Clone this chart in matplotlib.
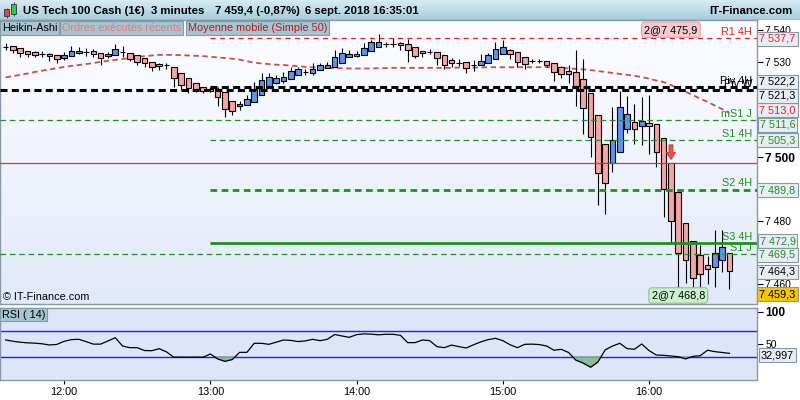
import numpy as np
import pandas as pd
import matplotlib
matplotlib.use('Agg')
import matplotlib.pyplot as plt
from matplotlib.colors import LinearSegmentedColormap
from matplotlib.patches import Rectangle

plt.rcParams['font.family'] = ['Liberation Sans', 'DejaVu Sans']

# ---------------- data ----------------
times = pd.date_range('2018-09-06 11:36', '2018-09-06 16:33', freq='3min')

ha_open = [7534.9, 7535.1, 7534.4, 7533.6, 7533.1, 7532.6, 7532.6, 7532.2, 7531.4, 7532.0,
           7532.8, 7533.2, 7533.4, 7532.8, 7532.0, 7532.2, 7533.3, 7533.0, 7532.1, 7531.2,
           7530.2, 7529.3, 7529.1, 7528.6, 7526.7, 7524.9, 7523.3, 7522.3, 7521.6, 7521.4,
           7520.6, 7517.9, 7516.2, 7516.4, 7517.4, 7519.7, 7521.8, 7523.5, 7524.2, 7524.6,
           7525.9, 7526.9, 7526.7, 7527.5, 7528.1, 7528.6, 7529.8, 7531.5, 7531.9, 7532.2,
           7533.4, 7534.7, 7535.6, 7535.7, 7536.0, 7535.6, 7534.7, 7533.4, 7533.3, 7533.1,
           7532.2, 7530.6, 7529.8, 7530.0, 7529.1, 7529.0, 7529.7, 7530.9, 7532.5, 7533.8,
           7533.1, 7531.5, 7530.5, 7530.5, 7530.3, 7529.7, 7528.6, 7527.2, 7526.8, 7524.7,
           7520.2, 7513.3, 7504.1, 7498.3, 7501.6, 7508.8, 7511.1, 7509.9, 7510.7, 7510.4,
           7506.0, 7498.1, 7489.1, 7479.2, 7473.6, 7469.2, 7466.0, 7465.3, 7467.6, 7469.7]
ha_close = [7534.9, 7533.9, 7532.8, 7532.5, 7532.4, 7532.6, 7532.0, 7530.9, 7532.2, 7533.6,
            7533.6, 7533.2, 7532.5, 7531.3, 7532.6, 7534.1, 7533.3, 7531.0, 7530.0, 7529.7,
            7528.4, 7528.8, 7529.1, 7524.9, 7522.8, 7521.8, 7521.6, 7521.0, 7521.0, 7519.1,
            7515.1, 7514.7, 7516.8, 7518.3, 7521.4, 7524.4, 7525.2, 7524.9, 7525.2, 7527.1,
            7527.8, 7526.9, 7527.8, 7529.0, 7529.1, 7531.5, 7533.0, 7532.6, 7532.6, 7534.4,
            7536.3, 7536.3, 7535.6, 7535.7, 7535.3, 7533.9, 7532.0, 7532.8, 7533.3, 7531.2,
            7529.0, 7529.7, 7529.8, 7528.2, 7529.1, 7530.5, 7532.3, 7534.1, 7534.7, 7532.5,
            7530.2, 7529.3, 7530.5, 7530.5, 7529.0, 7526.8, 7526.2, 7526.2, 7522.6, 7515.6,
            7506.3, 7495.0, 7491.8, 7505.5, 7515.8, 7513.6, 7508.8, 7511.5, 7509.7, 7501.6,
            7489.9, 7479.8, 7469.7, 7467.6, 7461.9, 7463.2, 7464.7, 7469.7, 7471.6, 7464.0]
ha_high = [7536.2, 7535.1, 7534.4, 7533.6, 7533.6, 7533.6, 7533.0, 7532.2, 7533.2, 7535.1,
           7534.7, 7534.4, 7534.1, 7532.8, 7533.3, 7535.7, 7535.1, 7533.0, 7532.4, 7531.2,
           7530.2, 7529.7, 7529.7, 7528.6, 7526.7, 7524.9, 7523.3, 7522.3, 7522.3, 7522.1,
           7520.6, 7517.9, 7517.7, 7519.6, 7523.8, 7526.7, 7526.7, 7526.0, 7527.0, 7528.4,
           7528.6, 7527.9, 7529.7, 7529.7, 7530.1, 7533.9, 7534.4, 7533.9, 7533.6, 7536.0,
           7537.0, 7538.8, 7536.5, 7537.5, 7536.5, 7537.2, 7534.7, 7533.4, 7534.1, 7533.1,
           7532.2, 7531.3, 7530.9, 7530.0, 7530.7, 7532.6, 7533.0, 7536.4, 7537.0, 7534.1,
           7533.1, 7531.5, 7531.1, 7531.1, 7530.3, 7529.7, 7528.8, 7529.1, 7533.9, 7530.9,
           7520.2, 7513.3, 7504.1, 7516.0, 7520.9, 7519.3, 7516.8, 7518.9, 7519.7, 7510.4,
           7506.0, 7498.1, 7489.1, 7479.2, 7473.6, 7472.3, 7468.9, 7477.1, 7477.1, 7469.8]
ha_low = [7533.9, 7532.8, 7531.5, 7531.7, 7531.7, 7531.5, 7530.5, 7529.7, 7530.7, 7532.0,
          7532.6, 7532.0, 7531.5, 7529.0, 7531.3, 7532.2, 7531.7, 7530.5, 7529.2, 7528.4,
          7527.3, 7527.5, 7527.8, 7522.1, 7521.4, 7520.4, 7520.6, 7520.4, 7520.6, 7516.2,
          7512.6, 7513.3, 7514.9, 7516.4, 7517.4, 7519.7, 7521.8, 7523.1, 7523.5, 7524.6,
          7525.9, 7525.9, 7525.9, 7527.5, 7528.1, 7528.6, 7529.8, 7531.5, 7531.5, 7532.2,
          7533.4, 7534.7, 7534.7, 7534.9, 7533.9, 7530.2, 7531.2, 7531.7, 7532.6, 7529.1,
          7527.8, 7528.4, 7528.8, 7526.5, 7527.3, 7529.0, 7529.7, 7530.9, 7532.5, 7530.9,
          7528.6, 7527.8, 7529.8, 7529.7, 7528.4, 7523.9, 7524.9, 7523.5, 7516.2, 7507.4,
          7500.2, 7485.0, 7482.1, 7495.5, 7501.6, 7507.8, 7504.2, 7503.9, 7500.9, 7497.0,
          7481.3, 7472.9, 7459.2, 7460.3, 7459.2, 7459.2, 7460.0, 7459.0, 7463.9, 7458.4]

ma50 = [7525.2, 7525.6, 7526.0, 7526.4, 7526.9, 7527.3, 7527.7, 7528.1, 7528.5, 7528.8,
        7529.1, 7529.4, 7529.7, 7530.1, 7530.4, 7530.7, 7531.0, 7531.3, 7531.6, 7531.9,
        7532.1, 7532.3, 7532.3, 7532.3, 7532.2, 7532.1, 7532.0, 7531.9, 7531.7, 7531.5,
        7531.3, 7531.1, 7530.8, 7530.3, 7529.8, 7529.6, 7529.4, 7529.2, 7529.1, 7528.9,
        7528.7, 7528.5, 7528.4, 7528.3, 7528.2, 7528.1, 7528.1, 7528.0, 7528.0, 7528.0,
        7528.0, 7528.1, 7528.1, 7528.2, 7528.2, 7528.2, 7528.2, 7528.2, 7528.2, 7528.2,
        7528.2, 7528.2, 7528.3, 7528.3, 7528.3, 7528.3, 7528.4, 7528.4, 7528.4, 7528.4,
        7528.4, 7528.4, 7528.4, 7528.4, 7528.4, 7528.3, 7528.2, 7528.0, 7527.9, 7527.7,
        7527.5, 7527.2, 7526.9, 7526.6, 7526.3, 7526.0, 7525.7, 7525.3, 7524.8, 7524.2,
        7523.7, 7522.8, 7521.6, 7520.7, 7519.6, 7518.5, 7517.5, 7516.3, 7515.2, 7514.0]

rsi14 = [56.5, 54.5, 53.0, 52.0, 51.5, 50.5, 48.7, 49.5, 54.4, 57.0,
         57.5, 54.0, 50.0, 50.0, 55.0, 60.0, 47.0, 44.5, 44.5, 40.0,
         39.8, 42.9, 38.0, 29.6, 29.6, 29.5, 29.6, 29.5, 34.7, 27.0,
         23.2, 26.0, 37.2, 37.2, 51.3, 51.3, 49.7, 53.0, 56.4, 55.8,
         54.0, 55.0, 57.5, 55.4, 57.5, 65.0, 62.7, 60.6, 64.7, 66.0,
         65.5, 64.5, 65.3, 65.3, 63.7, 52.3, 52.3, 56.4, 55.4, 46.1,
         44.5, 48.5, 46.1, 44.0, 49.0, 53.5, 57.0, 59.0, 55.4, 49.0,
         44.5, 49.7, 50.0, 49.3, 47.0, 40.5, 41.9, 37.0, 25.0, 20.5,
         14.0, 22.0, 41.0, 47.0, 51.3, 43.0, 42.0, 50.2, 40.0, 33.0,
         32.6, 31.5, 30.5, 27.0, 31.0, 32.0, 40.5, 38.3, 37.0, 35.7]

level_names = ['R1 4H', 'Piv 4H', 'Piv W', 'mS1 J', 'S1 4H', 'S2 4H', 'S3 4H', 'S1 J']
level_values = [7537.7, 7522.2, 7521.3, 7511.6, 7505.3, 7489.8, 7472.9, 7469.5]

order_line = 7498.1          # executed order level (red line)
order_labels = ['2@7 475,9', '2@7 468,8']
order_bars = [91, 92]
ma_last = 7513.0
ha_last = 7464.3
last_price = 7459.3
rsi_last = 32.997

price_ticks = [7460, 7480, 7500, 7530, 7540]
time_ticks = ['12:00', '13:00', '14:00', '15:00', '16:00']

title_parts = ['US Tech 100 Cash (1€)', '3 minutes', '7 459,4 (-0,87%)',
               '6 sept. 2018 16:35:01']

# ---------------- helpers ----------------
def fmt(v, d=1):
    s = f'{v:,.{d}f}'
    return s.replace(',', ' ').replace('.', ',')

def minutes(hhmm):
    h, m = hhmm.split(':')
    return int(h) * 60 + int(m) - 720

t = np.array((times.hour * 60 + times.minute - 720), dtype=float)
o = np.array(ha_open); c = np.array(ha_close)
hi = np.array(ha_high); lo = np.array(ha_low)
rsi = np.array(rsi14)

W, H = 800, 400
def fy(py):
    return 1 - py / H

GREEN = '#1f8f1f'
RED = '#e02020'
XLIM = (-26.3, 284.3)
YLIM = (7453.7, 7543.3)

fig = plt.figure(figsize=(8, 4), dpi=100)
fig.patch.set_facecolor('white')

# title bar
axt = fig.add_axes([0, fy(20), 1, 20 / H])
axt.imshow(np.linspace(0, 1, 50).reshape(-1, 1), aspect='auto', extent=[0, 1, 0, 1],
           cmap=LinearSegmentedColormap.from_list('tb', ['#d6ebf2', '#a6cddd']))
axt.set_xlim(0, 1); axt.set_ylim(0, 1)
axt.axis('off')
axt.axhline(0.02, color='#7b96a4', lw=1)
# small candle icon
axt.add_patch(Rectangle((4 / W, 0.18), 5 / W, 0.35, fc='#e04848', ec='#333333', lw=0.6))
axt.vlines(6.5 / W, 0.1, 0.6, color='#333333', lw=0.6, zorder=0)
axt.add_patch(Rectangle((11 / W, 0.3), 5 / W, 0.5, fc='#3cc83c', ec='#333333', lw=0.6))
axt.vlines(13.5 / W, 0.2, 0.92, color='#333333', lw=0.6, zorder=0)

for x, s in zip([23, 151, 215, 305], title_parts):
    fig.text(x / W, fy(10.5), s, fontsize=8.2, fontweight='bold', va='center', ha='left')
fig.text(793 / W, fy(10.5), 'IT-Finance.com', fontsize=8.2, fontweight='bold',
         va='center', ha='right')

# ---------------- main price panel ----------------
ax = fig.add_axes([0, fy(304), 757 / W, 284 / H])
ax.imshow(np.linspace(0, 1, 100).reshape(-1, 1), aspect='auto',
          extent=[XLIM[0], XLIM[1], YLIM[0], YLIM[1]], zorder=0,
          cmap=LinearSegmentedColormap.from_list('bg', ['#fcfdff', '#e2e9f9']))
ax.set_xlim(*XLIM)
ax.set_ylim(*YLIM)

# moving average
ax.plot(t, ma50, color='#c0302b', lw=1.3, ls=(0, (3, 2)), alpha=0.85, zorder=1.5)

# heikin-ashi candles
up = c > o
colors = np.where(up, '#5f93ee', '#f6a4a4')
ax.vlines(t, lo, hi, color='black', lw=0.8, zorder=2)
ax.bar(t, np.abs(c - o), bottom=np.minimum(o, c), width=2.3, color=colors,
       edgecolor='black', linewidth=0.8, zorder=3)

# pivot / support / resistance levels
thin_dash = (0, (4.5, 3))
styles = {
    'R1 4H': dict(color=RED, lw=0.9, ls=(0, (4, 3.5))),
    'Piv 4H': dict(color='black', lw=2.2, ls=(0, (2.3, 1.4))),
    'Piv W': dict(color='black', lw=2.2, ls=(0, (2.3, 1.4))),
    'mS1 J': dict(color=GREEN, lw=0.9, ls=thin_dash),
    'S1 4H': dict(color=GREEN, lw=0.9, ls=thin_dash),
    'S2 4H': dict(color=GREEN, lw=2.0, ls=(0, (2.4, 1.6))),
    'S3 4H': dict(color=GREEN, lw=2.0, ls='-'),
    'S1 J': dict(color=GREEN, lw=0.9, ls=thin_dash),
}
start_4h = minutes('13:00')
for name, val in zip(level_names, level_values):
    st = styles[name]
    x0 = start_4h if '4H' in name else XLIM[0]
    ax.hlines(val, x0, XLIM[1], colors=st['color'], linewidth=st['lw'],
              linestyles=[st['ls']], zorder=4)
    ax.annotate(name, xy=(0.9934, val), xycoords=ax.get_yaxis_transform(),
                xytext=(0, 0.8), textcoords='offset points', ha='right', va='bottom',
                fontsize=7.8, color=st['color'], zorder=5)

ax.axhline(order_line, color='#e23030', lw=0.9, zorder=4)

# order markers
ax.arrow(t[order_bars[0]], 7503.9, 0, 7499.3 - 7503.9, width=1.6, head_width=3.8,
         head_length=2.2, length_includes_head=True, fc='#f05050', ec='#c83030',
         lw=0.6, zorder=6)
ax.text(t[order_bars[0]], 0.966, order_labels[0], transform=ax.get_xaxis_transform(),
        ha='center', va='center', fontsize=7.8, zorder=7,
        bbox=dict(boxstyle='round,pad=0.25,rounding_size=0.3', fc='#f7c8cf', ec='#e6a2ac', lw=0.8))
ax.text(t[order_bars[1]], 0.03, order_labels[1], transform=ax.get_xaxis_transform(),
        ha='center', va='center', fontsize=7.8, zorder=7,
        bbox=dict(boxstyle='round,pad=0.25,rounding_size=0.3', fc='#caf1ca', ec='#86c686', lw=0.8))

ax.text(3 / 757, 7 / 284, '© IT-Finance.com', transform=ax.transAxes, fontsize=7.8,
        ha='left', va='center', zorder=7)

# right price axis
ax.yaxis.tick_right()
ax.set_yticks(price_ticks)
ax.set_yticklabels([fmt(v, 0) for v in price_ticks])
ax.tick_params(axis='y', direction='out', length=4, pad=2, labelsize=7.5, width=0.8)
ax.tick_params(axis='x', bottom=False, labelbottom=False)
for lab, v in zip(ax.get_yticklabels(), price_ticks):
    if v == 7500:
        lab.set_fontweight('bold')
        lab.set_fontsize(8.6)
for sp in ax.spines.values():
    sp.set_color('#8898a8')
    sp.set_linewidth(1)

def value_box(val, text, color, px_shift=0.0, fc='#e7edf3'):
    ax.annotate(text, xy=(1, val), xycoords=ax.get_yaxis_transform(),
                xytext=(20.5 * 0.72, -px_shift * 0.72), textcoords='offset points',
                ha='center', va='center', fontsize=7.8, color=color,
                annotation_clip=False, zorder=8,
                bbox=dict(boxstyle='square,pad=0.18', fc=fc, ec='#8796a8', lw=0.8))

value_box(ma_last, fmt(ma_last), RED, -6)
box_shift = {'R1 4H': 1, 'Piv 4H': -5, 'Piv W': 6, 'mS1 J': 4.5, 'S1 4H': 0,
             'S2 4H': 0.5, 'S3 4H': -2, 'S1 J': 1}
for name, val in zip(level_names, level_values):
    value_box(val, fmt(val), styles[name]['color'], box_shift[name])
value_box(ha_last, fmt(ha_last), 'black', 1.3)
value_box(last_price, fmt(last_price), 'black', 8, fc='#f7c600')

# tabs
tabs = [('Heikin-Ashi', 'black', 2), ('Ordres exécutés récents', '#f07474', 62),
        ('Moyenne mobile (Simple 50)', '#b01c1c', 188)]
for s, col, x in tabs:
    fig.text(x / W, fy(28), s, fontsize=7.8, color=col, ha='left', va='center',
             bbox=dict(boxstyle='square,pad=0.15', fc='#a8c4d0', ec='#7f9aa8', lw=0.8))

# ---------------- RSI panel ----------------
ax2 = fig.add_axes([0, fy(380), 757 / W, 72 / H])
ax2.set_facecolor('#dde6f9')
ax2.set_xlim(*XLIM)
ax2.set_ylim(-5.8, 106.2)
ax2.axhline(70, color='#2424cc', lw=1)
ax2.axhline(30, color='#2424cc', lw=1)
ax2.fill_between(t, rsi, 30, where=rsi < 30, interpolate=True, color='#8dbb9a',
                 edgecolor='#557a60', lw=0.5, zorder=2)
ax2.plot(t, rsi, color='black', lw=0.9, zorder=3)
ax2.yaxis.tick_right()
ax2.set_yticks([50, 100])
ax2.set_yticklabels(['50', '100'])
ax2.tick_params(axis='y', direction='out', length=4, pad=2, labelsize=7.5, width=0.8)
ax2.get_yticklabels()[1].set_fontweight('bold')
ax2.get_yticklabels()[1].set_fontsize(8.6)
ax2.set_xticks([minutes(s) for s in time_ticks])
ax2.set_xticklabels(time_ticks)
ax2.tick_params(axis='x', direction='out', length=3, pad=2, labelsize=7.8, width=0.8)
for sp in ax2.spines.values():
    sp.set_color('#8898a8')
    sp.set_linewidth(1)

ax2.annotate(fmt(rsi_last, 3).replace(' ', ''), xy=(1, rsi_last), xycoords=ax2.get_yaxis_transform(),
             xytext=(20.5 * 0.72, 0), textcoords='offset points', ha='center', va='center',
             fontsize=7.8, annotation_clip=False, zorder=8,
             bbox=dict(boxstyle='square,pad=0.18', fc='#e7edf3', ec='#8796a8', lw=0.8))
fig.text(2 / W, fy(314.5), 'RSI ( 14)', fontsize=7.8, ha='left', va='center',
         bbox=dict(boxstyle='square,pad=0.15', fc='#a8c4d0', ec='#7f9aa8', lw=0.8))

fig.savefig('out.png', dpi=100)
